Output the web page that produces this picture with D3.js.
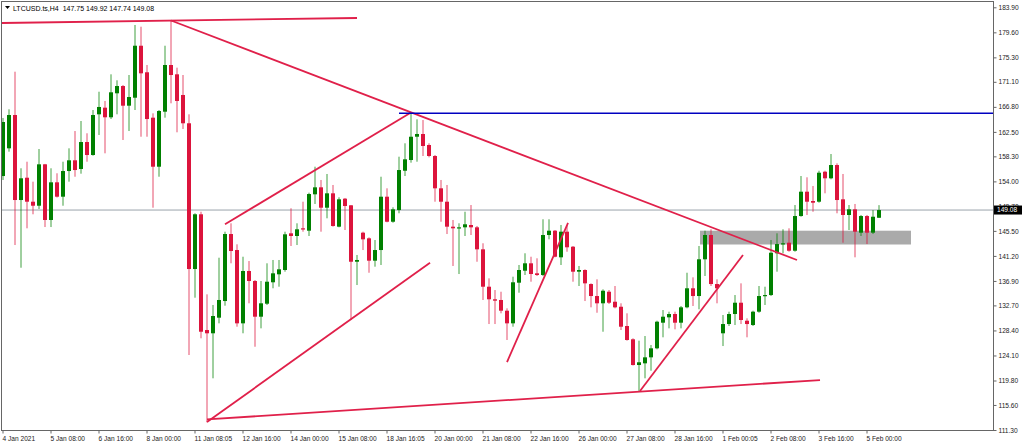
<!DOCTYPE html>
<html><head><meta charset="utf-8">
<script src="https://cdn.jsdelivr.net/npm/d3@7"></script>
<style>
html,body{margin:0;padding:0;background:#fff;}
svg{display:block;font-family:"Liberation Sans",Arial,sans-serif;}
</style></head>
<body>
<svg id="c" width="1024" height="447"></svg>
<script>
const title = "LTCUSD.ts,H4  147.75 149.92 147.74 149.08";
const open = [154.92,159.68,165.40,150.80,154.63,150.51,149.82,156.93,147.37,153.84,
151.37,155.78,157.62,156.13,160.76,158.53,165.52,166.66,165.01,169.13,
170.38,167.00,168.37,177.30,172.74,164.94,156.52,165.97,173.99,172.39,
168.84,163.98,138.95,148.35,128.47,127.91,130.59,133.45,144.96,142.21,
129.62,138.61,136.89,130.76,132.99,136.67,138.04,138.78,145.08,144.62,
145.94,145.53,151.78,152.98,149.48,151.95,146.22,151.03,149.89,140.20,
145.19,144.22,140.38,142.21,151.37,147.07,149.08,155.83,157.67,161.67,
162.14,160.25,158.36,152.81,150.51,146.22,145.94,146.11,146.51,146.11,
142.33,135.91,133.75,133.63,131.79,129.62,136.60,138.66,139.93,138.21,
137.92,144.79,145.53,140.96,145.36,142.78,138.49,138.78,136.37,134.31,
133.06,135.05,133.33,132.47,129.16,126.88,122.46,122.75,123.78,125.33,
129.73,130.65,131.22,129.73,132.37,135.64,134.31,140.62,144.79,136.37,
127.91,129.50,131.22,133.16,130.07,129.33,131.62,134.31,134.48,141.65,
143.19,143.47,142.09,148.05,152.23,150.63,150.51,155.66,154.53,156.81,
150.92,148.23,149.20,145.19,148.05,145.19,147.75];
const high = [164.89,166.38,172.84,156.25,157.38,153.95,159.56,157.00,156.25,155.39,
157.38,159.68,162.65,164.37,162.26,166.26,169.40,167.81,172.39,171.36,
170.55,172.27,180.86,180.57,173.99,165.69,166.26,177.30,181.55,173.53,
172.27,165.52,148.52,148.79,134.60,132.77,140.89,145.36,146.80,143.19,
141.06,140.32,137.06,136.89,139.93,140.50,140.50,145.36,149.38,146.80,
150.51,152.06,156.52,154.24,155.27,153.38,151.27,151.15,149.94,141.36,
145.36,144.39,143.93,154.80,152.81,149.55,158.24,160.54,165.90,164.66,
164.54,160.54,158.53,154.24,153.38,147.37,146.80,148.79,149.94,146.34,
143.37,137.35,135.34,135.05,132.20,137.63,139.64,141.65,141.06,140.79,
147.49,147.49,145.65,146.51,146.51,142.90,139.47,138.90,136.49,137.18,
135.46,135.34,136.03,133.06,131.34,127.05,126.64,127.44,125.90,130.07,
131.91,131.62,131.62,132.60,138.31,137.52,142.90,145.53,145.77,137.18,
131.05,131.62,134.48,136.49,130.48,131.79,136.03,135.91,143.93,145.08,
145.77,145.94,149.94,154.92,154.70,153.21,155.83,155.83,158.70,157.10,
155.27,149.94,150.12,148.23,148.23,149.08,149.92];
const low = [154.24,159.10,143.07,139.17,145.94,148.35,149.26,146.16,146.16,151.23,
149.82,153.95,154.80,155.32,157.38,158.41,161.97,158.82,164.71,165.52,
161.11,162.65,166.26,161.67,161.67,149.48,154.80,164.94,167.41,162.43,
163.00,124.18,134.02,127.05,112.62,120.18,129.62,132.65,139.93,129.04,
127.91,133.06,125.60,128.76,132.77,135.64,135.91,138.49,142.90,143.07,
145.36,144.62,150.12,145.36,147.66,146.22,146.11,145.65,130.19,136.20,
142.21,138.31,139.35,139.64,146.97,146.90,148.52,154.92,157.21,157.38,
158.36,158.13,150.51,147.07,144.96,139.47,138.09,144.62,144.79,140.20,
133.63,129.50,129.50,131.34,126.76,129.04,134.88,137.92,136.77,137.75,
137.75,144.05,140.96,139.64,141.92,136.77,136.03,133.45,132.37,131.44,
128.18,132.94,132.20,128.47,126.64,122.38,117.88,120.18,121.48,125.16,
127.22,128.76,128.59,128.76,132.20,132.60,132.03,137.75,136.03,133.06,
125.72,129.16,129.33,129.50,127.22,129.16,131.44,132.77,134.31,138.49,
141.65,141.92,141.92,147.93,148.23,148.79,150.34,151.95,154.36,148.52,
143.47,145.65,140.96,144.62,143.24,144.96,147.74];
const close = [164.20,165.40,150.80,154.53,150.51,149.82,156.93,147.37,153.84,151.37,
155.78,157.62,155.95,160.76,158.53,165.40,166.78,165.01,169.30,170.38,
167.00,168.49,177.30,172.56,164.71,156.52,166.09,173.99,172.27,167.81,
163.98,138.95,148.35,128.18,127.91,130.88,133.63,144.96,142.04,129.62,
138.61,136.89,130.76,133.06,136.77,138.21,138.90,144.91,144.62,145.77,
145.77,151.83,152.98,149.48,151.95,146.34,150.92,149.77,140.20,140.50,
144.05,140.38,142.21,151.37,147.07,149.20,155.95,157.79,161.67,162.14,
160.08,158.36,152.81,150.51,146.22,145.94,146.11,146.63,146.11,142.33,
135.91,133.75,133.51,131.79,129.62,136.67,138.78,139.93,138.09,137.92,
144.79,145.53,141.06,145.36,142.68,138.49,138.78,136.49,134.31,133.06,
135.22,133.16,132.37,129.04,126.76,122.46,122.93,123.78,125.33,129.90,
130.76,131.22,129.73,132.37,135.64,134.31,140.62,144.79,136.37,135.64,
129.50,131.22,133.16,130.19,129.50,131.62,134.31,134.48,141.75,143.24,
143.37,142.09,148.05,152.23,150.51,150.34,155.49,154.53,156.81,150.80,
148.23,149.20,145.36,148.05,145.19,147.93,149.08];

const timeLabels = ["4 Jan 2021","5 Jan 08:00","6 Jan 16:00","8 Jan 00:00","11 Jan 08:05",
"12 Jan 16:00","14 Jan 00:00","15 Jan 08:00","18 Jan 16:05","20 Jan 00:00","21 Jan 08:00",
"22 Jan 16:00","26 Jan 00:00","27 Jan 08:00","28 Jan 16:00","1 Feb 00:05","2 Feb 08:00",
"3 Feb 16:00","5 Feb 00:00"];
const timeLabelBars = [0,8,16,24,32,40,48,56,64,72,80,88,96,104,112,120,128,136,144];
const priceTicks = [183.90,179.60,175.30,171.10,166.80,162.50,158.30,154.00,149.70,145.50,
141.20,136.90,132.70,128.40,124.10,119.80,115.60,111.30];
const bidPrice = 149.08;

// trend lines: [bar1, price1, bar2, price2]
const trendLines = [
  [-0.17, 181.20, 59.0, 182.06],
  [28.0, 181.63, 132.33, 140.50],
  [37.0, 146.63, 68.0, 165.83],
  [34.0, 112.67, 71.17, 140.03],
  [34.0, 113.12, 136.17, 119.88],
  [84.0, 122.97, 94.17, 146.86],
  [106.17, 118.00, 123.33, 141.36]
];
const resistanceLevel = {startBar: 66, price: 165.69};
const zone = {bar1: 116.17, bar2: 151.33, top: 145.53, bottom: 143.16};

(function(){
const svg = d3.select("#c");
const W = 1024, H = 447;
const pL = 2, pR = 993, pT = 2, pB = 430;
const x = d3.scaleLinear().domain([0, 146]).range([3, 879]);
const y = d3.scaleLinear().domain([111.3, 183.9]).range([430, 7.3]);

svg.append("rect").attr("width", W).attr("height", H).attr("fill", "#fff");
svg.append("clipPath").attr("id","pc").append("rect")
  .attr("x", pL).attr("y", pT).attr("width", pR-pL).attr("height", pB-pT);
const plot = svg.append("g").attr("clip-path","url(#pc)");

// zone
plot.append("rect")
  .attr("x", x(zone.bar1)).attr("width", x(zone.bar2)-x(zone.bar1))
  .attr("y", y(zone.top)).attr("height", y(zone.bottom)-y(zone.top))
  .attr("fill", "#aaaaaa");

// bid line
plot.append("line").attr("x1", pL).attr("x2", pR)
  .attr("y1", y(bidPrice)).attr("y2", y(bidPrice))
  .attr("stroke", "#9aa3ab").attr("stroke-width", 1);

// candles
const idx = d3.range(open.length);
const up = i => close[i] >= open[i];
const GREEN = "#008000", RED = "#dc143c";
plot.append("g").selectAll("line").data(idx).join("line")
  .attr("x1", i => x(i)).attr("x2", i => x(i))
  .attr("y1", i => y(high[i])).attr("y2", i => y(low[i]))
  .attr("stroke", i => up(i) ? GREEN : RED).attr("stroke-width", 1).attr("stroke-opacity", 0.75);
plot.append("g").selectAll("rect").data(idx).join("rect")
  .attr("x", i => x(i) - 2).attr("width", 4)
  .attr("y", i => y(Math.max(open[i], close[i])))
  .attr("height", i => Math.max(1.2, Math.abs(y(open[i]) - y(close[i]))))
  .attr("fill", i => up(i) ? GREEN : RED);

// trend lines
plot.append("g").selectAll("line").data(trendLines).join("line")
  .attr("x1", d => x(d[0])).attr("y1", d => y(d[1]))
  .attr("x2", d => x(d[2])).attr("y2", d => y(d[3]))
  .attr("stroke", "#e0204a").attr("stroke-width", 1.8);

// resistance
plot.append("line").attr("x1", x(resistanceLevel.startBar)).attr("x2", pR)
  .attr("y1", y(resistanceLevel.price)).attr("y2", y(resistanceLevel.price))
  .attr("stroke", "#0000c0").attr("stroke-width", 1.5);

// frame
svg.append("rect").attr("x", pL-0.5).attr("y", pT-0.5)
  .attr("width", pR-pL+1).attr("height", pB-pT+1)
  .attr("fill","none").attr("stroke","#666").attr("stroke-width",1);

// right axis
const ya = svg.append("g").attr("transform", `translate(${pR+0.5},0)`)
  .call(d3.axisRight(y).tickValues(priceTicks).tickFormat(d3.format(".2f")).tickSize(3).tickPadding(2));
ya.select(".domain").remove();
ya.selectAll("line").attr("stroke","#666");
ya.selectAll("text").attr("font-size", 6.6).attr("fill","#222")
  .attr("font-family", '"Liberation Sans",Arial,sans-serif');

// bid label
const bg = svg.append("g");
bg.append("rect").attr("x", pR+1).attr("y", y(bidPrice)-4.5).attr("width", 28).attr("height", 9).attr("fill","#000");
bg.append("text").attr("x", pR+4).attr("y", y(bidPrice)).attr("dy","0.34em")
  .attr("font-size", 6.6).attr("fill","#fff").text(d3.format(".2f")(bidPrice));

// bottom axis
const xa = svg.append("g").attr("transform", `translate(0,${pB+0.5})`)
  .call(d3.axisBottom(x).tickValues(timeLabelBars).tickFormat((d,i)=>timeLabels[i]).tickSize(3).tickPadding(3));
xa.select(".domain").remove();
xa.selectAll("line").attr("stroke","#666").attr("transform","translate(-0.5,0)");
xa.selectAll("text").attr("text-anchor","start").attr("dx", -1).attr("font-size", 6.6).attr("fill","#222")
  .attr("font-family", '"Liberation Sans",Arial,sans-serif');

// title
svg.append("path").attr("d","M5,6 L10,6 L7.5,9 Z").attr("fill","#000");
svg.append("text").attr("x", 13).attr("y", 10.5).attr("font-size", 7).attr("fill","#000")
  .style("white-space","pre").text(title);
})();
</script>
</body></html>
